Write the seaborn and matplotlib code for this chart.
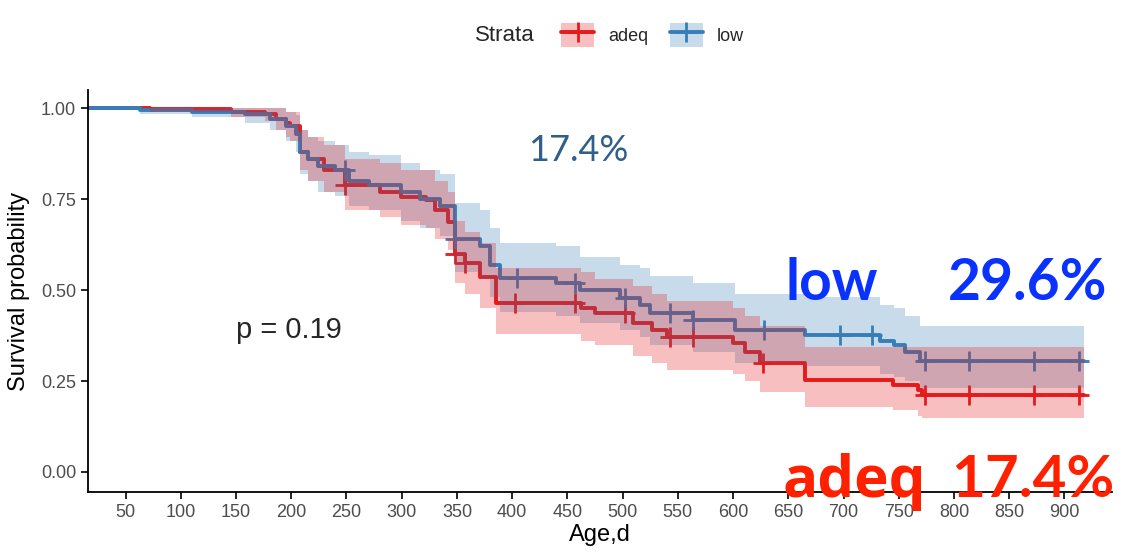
import numpy as np
import pandas as pd
import seaborn as sns
import matplotlib.pyplot as plt
from matplotlib.patches import Patch
from matplotlib.lines import Line2D

# Kaplan-Meier steps (time in days, survival, CI)
low_time = [0, 63, 110, 158, 181, 195, 204, 208, 215, 224, 240, 252, 270, 299, 317, 335,
            348, 371, 380, 389, 440, 461, 498, 516, 525, 564, 602, 665, 733, 746, 756, 769, 918]
low_surv = [1.0, 0.995, 0.99, 0.985, 0.97, 0.95, 0.93, 0.88, 0.86, 0.84, 0.83, 0.80, 0.79, 0.77, 0.75, 0.73,
            0.64, 0.62, 0.57, 0.533, 0.519, 0.50, 0.478, 0.46, 0.437, 0.418, 0.39, 0.376, 0.36, 0.35, 0.33, 0.305, 0.305]
low_lower = [1.0, 0.985, 0.975, 0.96, 0.94, 0.91, 0.88, 0.82, 0.80, 0.77, 0.76, 0.73, 0.72, 0.69, 0.67, 0.65,
             0.55, 0.53, 0.48, 0.44, 0.43, 0.41, 0.39, 0.37, 0.35, 0.33, 0.30, 0.29, 0.27, 0.26, 0.25, 0.23, 0.23]
low_upper = [1.0, 1.0, 1.0, 1.0, 1.0, 0.99, 0.98, 0.94, 0.92, 0.91, 0.90, 0.88, 0.87, 0.85, 0.83, 0.82,
             0.74, 0.72, 0.67, 0.63, 0.62, 0.59, 0.57, 0.56, 0.54, 0.52, 0.49, 0.48, 0.46, 0.45, 0.43, 0.40, 0.40]
low_censor = [249, 348, 404, 457, 502, 543, 564, 628, 697, 726, 774, 814, 872, 913]

adeq_time = [0, 72, 145, 176, 186, 195, 199, 208, 215, 230, 249, 280, 299, 322, 330, 342,
             348, 357, 371, 385, 462, 475, 509, 527, 540, 600, 611, 624, 665, 745, 767, 771, 918]
adeq_surv = [1.0, 0.997, 0.99, 0.985, 0.97, 0.96, 0.95, 0.88, 0.86, 0.83, 0.79, 0.77, 0.755, 0.747, 0.72, 0.687,
             0.60, 0.574, 0.536, 0.464, 0.45, 0.437, 0.41, 0.39, 0.37, 0.354, 0.33, 0.30, 0.253, 0.24, 0.225, 0.212, 0.212]
adeq_lower = [1.0, 0.99, 0.975, 0.965, 0.94, 0.92, 0.91, 0.83, 0.80, 0.77, 0.72, 0.70, 0.68, 0.67, 0.64, 0.61,
              0.52, 0.49, 0.45, 0.38, 0.36, 0.35, 0.32, 0.30, 0.28, 0.27, 0.25, 0.22, 0.18, 0.17, 0.155, 0.148, 0.148]
adeq_upper = [1.0, 1.0, 1.0, 1.0, 1.0, 0.99, 0.99, 0.94, 0.92, 0.90, 0.86, 0.85, 0.83, 0.83, 0.80, 0.77,
              0.69, 0.66, 0.63, 0.56, 0.55, 0.53, 0.51, 0.49, 0.47, 0.45, 0.43, 0.40, 0.343, 0.343, 0.343, 0.343, 0.343]
adeq_censor = [249, 348, 357, 403, 457, 502, 543, 564, 627, 774, 814, 872, 913]

strata = ['adeq', 'low']
colors = {'adeq': '#E41A1C', 'low': '#377EB8'}

curves = {
    'adeq': (adeq_time, adeq_surv, adeq_lower, adeq_upper, adeq_censor),
    'low': (low_time, low_surv, low_lower, low_upper, low_censor),
}

sns.set_theme(style='ticks')
plt.rcParams['font.family'] = ['Liberation Sans', 'DejaVu Sans']

fig = plt.figure(figsize=(11.24, 5.57), dpi=100)
ax = fig.add_axes([0.0783, 0.1167, 0.911, 0.7217])

# lines first (adeq, then low on top), ribbons drawn over them like survminer
for i, name in enumerate(strata):
    t, s, lo, hi, cens = curves[name]
    df = pd.DataFrame({'time': t, 'surv': s, 'strata': name})
    sns.lineplot(data=df, x='time', y='surv', ax=ax, color=colors[name], lw=2.8,
                 drawstyle='steps-post', estimator=None, zorder=2 + i * 0.1, legend=False)
    idx = np.searchsorted(t, cens, side='right') - 1
    cdf = pd.DataFrame({'time': cens, 'surv': np.array(s)[idx]})
    sns.scatterplot(data=cdf, x='time', y='surv', ax=ax, marker='+', s=220,
                    linewidth=2, color=colors[name], zorder=2 + i * 0.1, legend=False)

for name in ['low', 'adeq']:
    t, s, lo, hi, cens = curves[name]
    ax.fill_between(t, lo, hi, step='post', color=colors[name], alpha=0.28, lw=0, zorder=3)

ax.set_xlim(16, 943)
ax.set_ylim(-0.055, 1.05)
ax.set_xticks(np.arange(50, 901, 50))
ax.set_yticks([0, 0.25, 0.5, 0.75, 1.0])
ax.set_yticklabels(['0.00', '0.25', '0.50', '0.75', '1.00'])
ax.tick_params(axis='both', labelsize=13, labelcolor='#4D4D4D', color='black', length=5, width=1.2)
ax.set_xlabel('Age,d', fontsize=17, color='black', labelpad=2)
ax.set_ylabel('Survival probability', fontsize=17, color='black', labelpad=8)
for side in ['top', 'right']:
    ax.spines[side].set_visible(False)
for side in ['left', 'bottom']:
    ax.spines[side].set_linewidth(1.3)
    ax.spines[side].set_color('black')

ax.text(150, 0.39, 'p = 0.19', fontsize=21, va='center', ha='left')
ax.text(460, 0.885, '17.4%', fontsize=26, color='#2F5F8A', ha='center', va='center', family='Lato')
ax.text(647, 0.473, 'low', fontsize=41, color='#0A32FF', fontweight='bold', family='Lato', va='baseline')
ax.text(939, 0.473, '29.6%', fontsize=41, color='#0A32FF', fontweight='bold', family='Lato',
        va='baseline', ha='right')
ax.text(645, -0.07, 'adeq', fontsize=42, color='#FF2000', fontweight='bold', family='Open Sans',
        va='baseline', clip_on=False)
ax.text(945, -0.07, '17.4%', fontsize=42, color='#FF2000', fontweight='bold', family='Lato',
        va='baseline', ha='right', clip_on=False)

handles = [(Patch(facecolor=colors[n], alpha=0.28, edgecolor='none'),
            Line2D([], [], color=colors[n], lw=2.8, marker='+', ms=14, mew=2)) for n in strata]
fig.text(0.423, 0.937, 'Strata', fontsize=16, va='center', ha='left')
fig.legend(handles, strata, loc='center left', bbox_to_anchor=(0.485, 0.937), ncol=2, frameon=False,
           fontsize=13, handlelength=1.8, handleheight=1.6, columnspacing=1.2, handletextpad=0.8)

fig.savefig('out.png', dpi=100)
